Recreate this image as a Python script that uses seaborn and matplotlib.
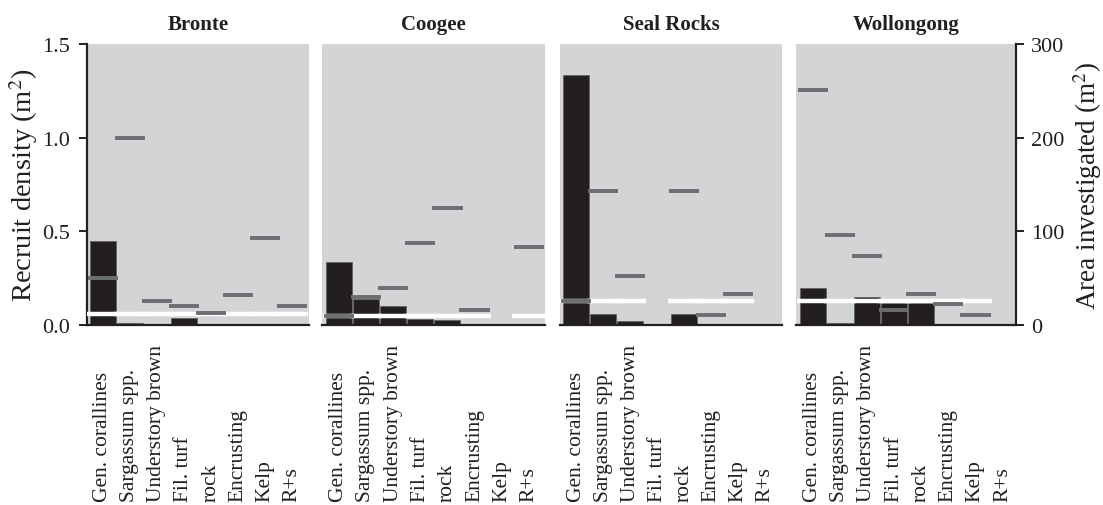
import numpy as np
import pandas as pd
import matplotlib
matplotlib.use("Agg")
import matplotlib.pyplot as plt
import matplotlib.transforms as mtransforms
import seaborn as sns

# Habitat categories and sites
categories = ["Gen. corallines", "Sargassum spp.", "Understory brown", "Fil. turf",
              "rock", "Encrusting", "Kelp", "R+s"]
sites = ["Bronte", "Coogee", "Seal Rocks", "Wollongong"]

nan = np.nan
# Recruit density per habitat (m^-2)
bronte_density = [0.45, 0.011, 0.005, 0.037, 0.005, 0.005, 0.005, 0.005]
coogee_density = [0.335, 0.137, 0.103, 0.034, 0.028, 0.005, nan, 0.005]
seal_rocks_density = [1.335, 0.061, 0.021, nan, 0.061, 0.005, 0.005, nan]
wollongong_density = [0.195, 0.013, 0.15, 0.12, 0.12, 0.005, 0.005, nan]

# Area of each habitat investigated (m^2)
bronte_area = [50, 200, 26, 20, 12.5, 32, 93, 20.5]
coogee_area = [9.5, 30, 40, 88, 125, 16, nan, 83]
seal_rocks_area = [25.5, 143, 52, nan, 143, 10.5, 33, nan]
wollongong_area = [251, 96, 74, 15.7, 33, 22, 10.5, nan]

# Site-wide mean recruit density (expected under no habitat preference)
expected_density = [0.057, 0.05, 0.126, 0.126]

densities = [bronte_density, coogee_density, seal_rocks_density, wollongong_density]
areas = [bronte_area, coogee_area, seal_rocks_area, wollongong_area]

sns.set_theme(style="white")
plt.rcParams["font.family"] = ["Liberation Serif", "DejaVu Serif"]
plt.rcParams["mathtext.fontset"] = "stix"

PANEL_BG = "#d3d4d6"
BAR_COLOR = "#231f20"
AREA_COLOR = "#6d6e71"
INK = "#231f20"

W, H = 1103, 506
fig = plt.figure(figsize=(W / 100, H / 100), dpi=100)

panel_px = [(87, 309), (322, 545), (560, 782), (796, 1016)]
xlims = [(-0.58, 7.62), (-0.62, 7.6), (-0.6, 7.62), (-0.62, 7.5)]
top_px, bottom_px = 45, 326
label_base = 1 - 502 / H  # common baseline for the rotated habitat names

for i, site in enumerate(sites):
    l, r = panel_px[i]
    ax = fig.add_axes([l / W, 1 - bottom_px / H, (r - l) / W, (bottom_px - top_px) / H])
    ax.set_facecolor(PANEL_BG)

    df = pd.DataFrame({"category": categories, "density": densities[i],
                       "area": areas[i]})
    bars = df.dropna(subset=["density"])
    sns.barplot(data=bars, x="category", y="density", order=categories,
                color=BAR_COLOR, saturation=1, width=0.97, errorbar=None,
                edgecolor="#5e5e60", linewidth=0.5, ax=ax, zorder=2)

    pos = np.arange(len(categories))
    surveyed = df["area"].notna().to_numpy()

    # mean density reference line over surveyed habitats
    ax.hlines([expected_density[i]] * surveyed.sum(), pos[surveyed] - 0.6,
              pos[surveyed] + 0.6, color="white", linewidth=3.2, zorder=3)

    ax.set_xlim(*xlims[i])
    ax.set_ylim(0, 1.5)
    ax.set_xlabel("")
    ax.set_ylabel("")
    ax.set_xticks(pos)
    ax.set_xticklabels([])
    ax.tick_params(axis="x", direction="out", length=6, width=1.4, color=INK, pad=4)

    # habitat names, rotated and sharing a common starting line
    trans = mtransforms.blended_transform_factory(ax.transData, fig.transFigure)
    for p, name in zip(pos, categories):
        ax.text(p, label_base, name, rotation=90, ha="center", va="bottom",
                fontsize=15.5, color=INK, transform=trans)

    for s in ["top", "right"]:
        ax.spines[s].set_visible(False)
    ax.spines["bottom"].set_color(INK)
    ax.spines["bottom"].set_linewidth(1.6)

    if i == 0:
        ax.spines["left"].set_color(INK)
        ax.spines["left"].set_linewidth(1.6)
        ax.set_yticks([0, 0.5, 1.0, 1.5])
        ax.set_yticklabels(["0.0", "0.5", "1.0", "1.5"], fontsize=16, color=INK)
        ax.tick_params(axis="y", direction="out", length=6, width=1.4, color=INK,
                       left=True, pad=6)
        ax.set_ylabel("Recruit density (m$^2$)", fontsize=20.5, color=INK, labelpad=2)
    else:
        ax.spines["left"].set_visible(False)
        ax.set_yticks([])

    ax.set_title(site, fontsize=15, fontweight="bold", color=INK, pad=11)

    # area investigated on the secondary scale
    ax2 = ax.twinx()
    ax2.set_ylim(0, 300)
    ax2.set_xlim(*xlims[i])
    ax2.hlines(df.loc[surveyed, "area"], pos[surveyed] - 0.56, pos[surveyed] + 0.56,
               color=AREA_COLOR, linewidth=2.8, zorder=4)
    for s in ["top", "left", "bottom"]:
        ax2.spines[s].set_visible(False)
    if i == len(sites) - 1:
        ax2.spines["right"].set_color(INK)
        ax2.spines["right"].set_linewidth(1.6)
        ax2.set_yticks([0, 100, 200, 300])
        ax2.set_yticklabels(["0", "100", "200", "300"], fontsize=16, color=INK)
        ax2.tick_params(axis="y", direction="out", length=6, width=1.4, color=INK,
                        right=True, pad=5)
        ax2.set_ylabel("Area investigated (m$^2$)", fontsize=19.5, color=INK, labelpad=5)
    else:
        ax2.spines["right"].set_visible(False)
        ax2.set_yticks([])
    ax2.grid(False)
    ax.grid(False)

fig.savefig("out.png", dpi=100)
